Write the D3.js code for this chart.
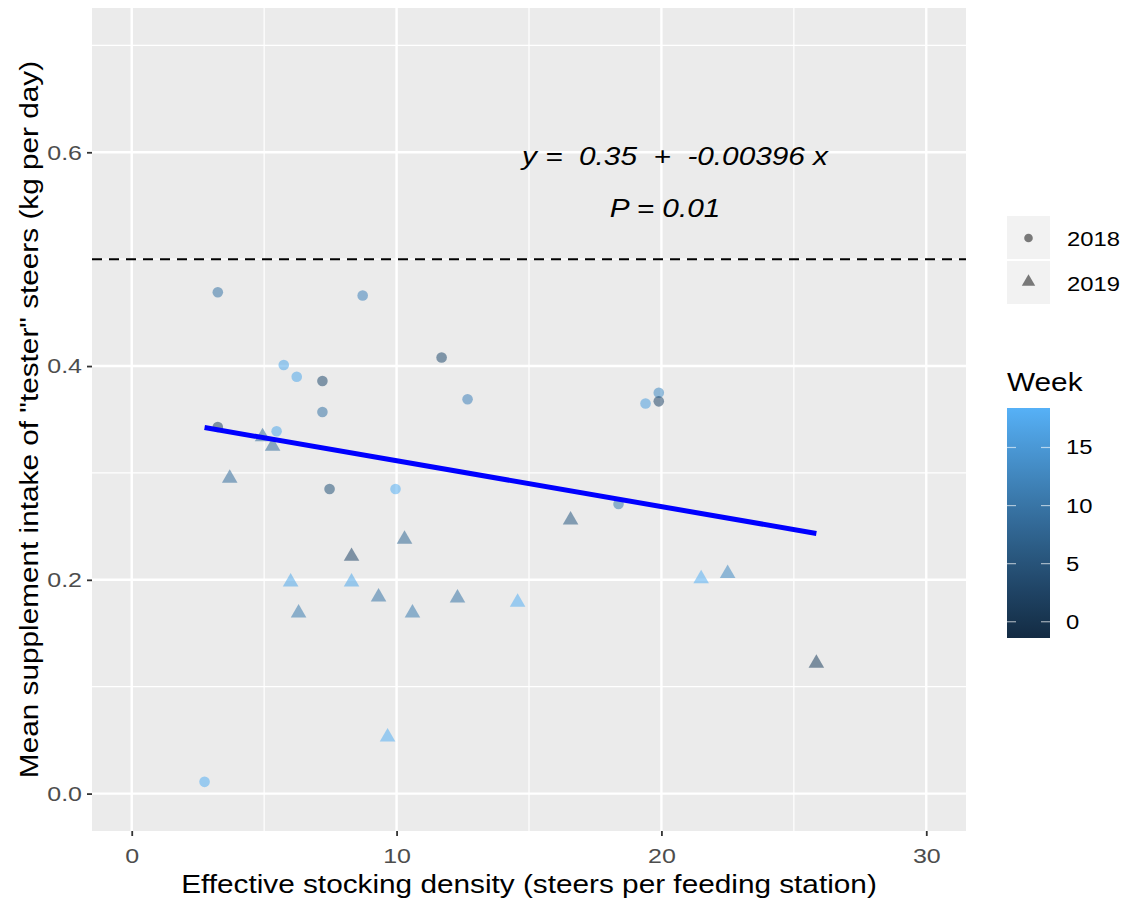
<!DOCTYPE html>
<html>
<head>
<meta charset="utf-8">
<script src="https://cdn.jsdelivr.net/npm/d3@7"></script>
<style>
  body { margin: 0; background: #fff; }
  svg, svg text { font-family: "Liberation Sans", Arial, sans-serif; }
  text { white-space: pre; }
</style>
</head>
<body>
<div id="canvas"></div>
<script>
// data
var circX    = [3.25, 3.25, 5.74, 6.23, 7.2, 7.2, 5.47, 7.47, 8.72, 11.7, 12.68, 9.96, 18.38, 19.4, 19.9, 19.9, 2.75];
var circY    = [0.469, 0.343, 0.401, 0.390, 0.386, 0.357, 0.339, 0.285, 0.466, 0.408, 0.369, 0.285, 0.271, 0.365, 0.375, 0.367, 0.011];
var circWeek = [10, 3, 17, 17, 4, 10, 17, 5, 12, 4, 12, 18, 11, 16, 13, 3, 18];
var triX     = [3.7, 4.94, 5.32, 6.0, 6.3, 8.3, 8.3, 9.32, 10.3, 10.6, 12.3, 14.57, 16.57, 21.5, 22.5, 25.85, 9.66];
var triY     = [0.294, 0.333, 0.324, 0.197, 0.168, 0.221, 0.197, 0.183, 0.237, 0.168, 0.182, 0.178, 0.255, 0.200, 0.205, 0.121, 0.052];
var triWeek  = [9, 9, 9, 17, 11, 3, 17, 10, 8, 11, 10, 18, 6, 18, 13, 2, 18];
var fitLine  = [[2.75, 0.3425], [25.85, 0.2434]];
var xTicks = [0, 10, 20, 30], xMinor = [5, 15, 25];
var yTicks = [0, 0.2, 0.4, 0.6], yMinor = [0.1, 0.3, 0.5, 0.7];
var weekTicks = [0, 5, 10, 15];
var weekRange = [-1.4, 18.4];
var years = ['2018', '2019'];
var refLine = 0.5;

var W = 1129, H = 905, STRETCH = 1.19;
var svg = d3.select('#canvas').append('svg').attr('width', W).attr('height', H);

var x = d3.scaleLinear().domain([-1.5, 31.5]).range([92, 966]);
var y = d3.scaleLinear().domain([-0.035, 0.735]).range([831, 8]);
var col = d3.scaleLinear().domain(weekRange).range(['#132B43', '#56B1F7']).interpolate(d3.interpolateLab);

// the reference text is a little wider than plain Arial, so widen every label
function stretch(sel) {
  sel.each(function() {
    var w = this.getComputedTextLength();
    d3.select(this).attr('textLength', w * STRETCH).attr('lengthAdjust', 'spacingAndGlyphs');
  });
}

// panel
svg.append('rect')
  .attr('x', x.range()[0]).attr('y', y.range()[1])
  .attr('width', x.range()[1] - x.range()[0]).attr('height', y.range()[0] - y.range()[1])
  .attr('fill', '#EBEBEB');

var grid = svg.append('g');
function vline(v, w) {
  grid.append('line').attr('x1', x(v)).attr('x2', x(v)).attr('y1', y.range()[0]).attr('y2', y.range()[1])
    .attr('stroke', '#fff').attr('stroke-width', w);
}
function hline(v, w) {
  grid.append('line').attr('y1', y(v)).attr('y2', y(v)).attr('x1', x.range()[0]).attr('x2', x.range()[1])
    .attr('stroke', '#fff').attr('stroke-width', w);
}
xMinor.forEach(function(v) { vline(v, 1.2); });
yMinor.forEach(function(v) { hline(v, 1.2); });
xTicks.forEach(function(v) { vline(v, 2.4); });
yTicks.forEach(function(v) { hline(v, 2.4); });

// axes
var xAxis = svg.append('g').attr('transform', 'translate(0,' + y.range()[0] + ')')
  .call(d3.axisBottom(x).tickValues(xTicks).tickSize(5).tickPadding(12).tickFormat(d3.format('d')));
var yAxis = svg.append('g').attr('transform', 'translate(' + x.range()[0] + ',0)')
  .call(d3.axisLeft(y).tickValues(yTicks).tickSize(5).tickPadding(5).tickFormat(d3.format('.1f')));
[xAxis, yAxis].forEach(function(a) {
  a.attr('font-family', null).attr('font-size', null);
  a.select('.domain').remove();
  a.selectAll('.tick line').attr('stroke', '#333').attr('stroke-width', 1.8);
  a.selectAll('.tick text').attr('fill', '#4D4D4D').style('font-size', '21px').call(stretch);
});

svg.append('text').attr('x', (x.range()[0] + x.range()[1]) / 2).attr('y', 893)
  .attr('text-anchor', 'middle').style('font-size', '25px').attr('fill', '#000')
  .text('Effective stocking density (steers per feeding station)').call(stretch);
svg.append('text').attr('transform', 'translate(38,' + (y.range()[0] + y.range()[1]) / 2 + ') rotate(-90)')
  .attr('text-anchor', 'middle').style('font-size', '25px').attr('fill', '#000')
  .text('Mean supplement intake of "tester" steers (kg per day)').call(stretch);

// dashed reference
svg.append('line').attr('x1', x.range()[0]).attr('x2', x.range()[1]).attr('y1', y(refLine)).attr('y2', y(refLine))
  .attr('stroke', '#000').attr('stroke-width', 2).attr('stroke-dasharray', '10,7');

// points
var pts = svg.append('g');
circX.forEach(function(v, i) {
  pts.append('circle').attr('cx', x(v)).attr('cy', y(circY[i])).attr('r', 5.3)
    .attr('fill', col(circWeek[i])).attr('fill-opacity', 0.55);
});
var tri = d3.symbol().type(d3.symbolTriangle).size(105);
triX.forEach(function(v, i) {
  pts.append('path').attr('d', tri()).attr('transform', 'translate(' + x(v) + ',' + (y(triY[i]) - 1) + ')')
    .attr('fill', col(triWeek[i])).attr('fill-opacity', 0.55);
});

// fitted line
svg.append('path').datum(fitLine)
  .attr('d', d3.line().x(function(d) { return x(d[0]); }).y(function(d) { return y(d[1]); }))
  .attr('stroke', '#0000FF').attr('stroke-width', 5).attr('fill', 'none');

// annotations
svg.append('text').attr('x', 675).attr('y', 165).attr('text-anchor', 'middle')
  .style('font-size', '25px').style('font-style', 'italic').attr('fill', '#000')
  .text('y =  0.35  +  -0.00396 x').call(stretch);
svg.append('text').attr('x', 665).attr('y', 217).attr('text-anchor', 'middle')
  .style('font-size', '25px').style('font-style', 'italic').attr('fill', '#000')
  .text('P = 0.01').call(stretch);

// shape legend
var lg = svg.append('g').attr('transform', 'translate(1007,216)');
years.forEach(function(yr, i) {
  var g = lg.append('g').attr('transform', 'translate(0,' + i * 45 + ')');
  g.append('rect').attr('width', 43).attr('height', 43).attr('fill', '#F2F2F2');
  if (i === 0) {
    g.append('circle').attr('cx', 21.5).attr('cy', 22).attr('r', 4.3).attr('fill', '#000').attr('fill-opacity', 0.5);
  } else {
    g.append('path').attr('d', d3.symbol().type(d3.symbolTriangle).size(78)())
      .attr('transform', 'translate(21.5,21)').attr('fill', '#000').attr('fill-opacity', 0.5);
  }
  g.append('text').attr('x', 60).attr('y', 30).style('font-size', '20px').attr('fill', '#000').text(yr).call(stretch);
});

// colour bar
var cbTop = 408, cbBot = 638, cbX = 1007, cbW = 43;
var cy = d3.scaleLinear().domain(weekRange).range([cbBot, cbTop]);
var grad = svg.append('defs').append('linearGradient').attr('id', 'wk')
  .attr('x1', 0).attr('x2', 0).attr('y1', 1).attr('y2', 0);
d3.range(0, 1.0001, 0.1).forEach(function(t) {
  grad.append('stop').attr('offset', t).attr('stop-color', col(weekRange[0] + t * (weekRange[1] - weekRange[0])));
});
svg.append('text').attr('x', cbX).attr('y', 391).style('font-size', '25px').attr('fill', '#000').text('Week').call(stretch);
svg.append('rect').attr('x', cbX).attr('y', cbTop).attr('width', cbW).attr('height', cbBot - cbTop).attr('fill', 'url(#wk)');
weekTicks.forEach(function(v) {
  svg.append('line').attr('x1', cbX).attr('x2', cbX + 9).attr('y1', cy(v)).attr('y2', cy(v))
    .attr('stroke', '#fff').attr('stroke-opacity', 0.6).attr('stroke-width', 1.2);
  svg.append('line').attr('x1', cbX + cbW - 9).attr('x2', cbX + cbW).attr('y1', cy(v)).attr('y2', cy(v))
    .attr('stroke', '#fff').attr('stroke-opacity', 0.6).attr('stroke-width', 1.2);
  svg.append('text').attr('x', 1066).attr('y', cy(v) + 7).style('font-size', '20px').attr('fill', '#000').text(v).call(stretch);
});
</script>
</body>
</html>
